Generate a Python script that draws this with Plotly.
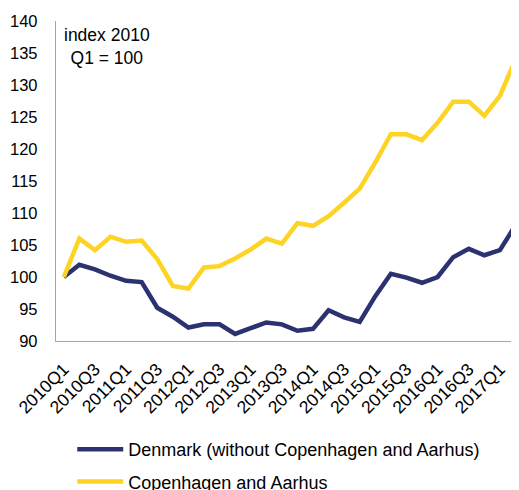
import plotly.graph_objects as go

quarters = [f"{y}Q{q}" for y in range(2010, 2018) for q in range(1, 5)][:30]
tick_labels = quarters[0:29:2]

denmark = [100.0, 101.9, 101.2, 100.2, 99.4, 99.2, 95.2, 93.8, 92.1, 92.6,
           92.6, 91.1, 92.0, 92.9, 92.6, 91.6, 91.9, 94.8, 93.7, 93.0,
           97.0, 100.5, 99.9, 99.1, 100.0, 103.1, 104.4, 103.4, 104.2, 108.1]
cph_aarhus = [100.0, 106.0, 104.2, 106.3, 105.5, 105.7, 102.8, 98.6, 98.2, 101.5,
              101.7, 102.9, 104.3, 106.0, 105.2, 108.4, 108.0, 109.5, 111.6, 113.8,
              117.9, 122.3, 122.3, 121.4, 124.1, 127.4, 127.4, 125.2, 128.3, 134.0]

y_ticks = [90, 95, 100, 105, 110, 115, 120, 125, 130, 135, 140]

NAVY = "#2c3270"
YELLOW = "#fdd424"
FONT = "Liberation Sans, Arial, sans-serif"

# page body has an 8px margin, so the figure is sized/offset accordingly
W, H = 519, 482

fig = go.Figure()
fig.add_trace(go.Scatter(x=quarters, y=denmark, mode="lines",
                         name="Denmark (without Copenhagen and Aarhus)",
                         line=dict(color=NAVY, width=4.5), legendgroup="a"))
fig.add_trace(go.Scatter(x=quarters, y=cph_aarhus, mode="lines",
                         name="Copenhagen and Aarhus",
                         line=dict(color=YELLOW, width=4.5), legendgroup="b"))

fig.update_layout(
    width=W, height=H,
    margin=dict(l=47.5, r=0, t=13, b=149, autoexpand=False),
    paper_bgcolor="white", plot_bgcolor="white",
    font=dict(family=FONT, size=16, color="#000000"),
    showlegend=True,
    legend=dict(x=0.0345, xanchor="left", y=1 - 423 / H, yref="container",
                yanchor="top", font=dict(size=18), traceorder="grouped",
                tracegroupgap=6, itemwidth=46, bgcolor="rgba(0,0,0,0)"),
    xaxis=dict(type="category", range=[-0.5, 29.74], showgrid=False,
               automargin=False,
               showline=True, linecolor="#a6a6a6", linewidth=1.3,
               tickmode="array", tickvals=tick_labels, ticktext=tick_labels,
               tickangle=-45, ticks="", ticklabelstandoff=10,
               tickfont=dict(size=17.5)),
    yaxis=dict(range=[90, 140], showgrid=False, zeroline=False,
               automargin=False,
               showline=True, linecolor="#a6a6a6", linewidth=1.3,
               tickmode="array", tickvals=y_ticks, ticks="",
               ticklabelstandoff=14, tickfont=dict(size=16.5)),
    annotations=[dict(text="index 2010<br>Q1 = 100", xref="paper", yref="paper",
                      x=0.109, y=0.92, xanchor="center", yanchor="middle",
                      showarrow=False, align="center", font=dict(size=17.5))],
)

fig.write_html("out.html")
